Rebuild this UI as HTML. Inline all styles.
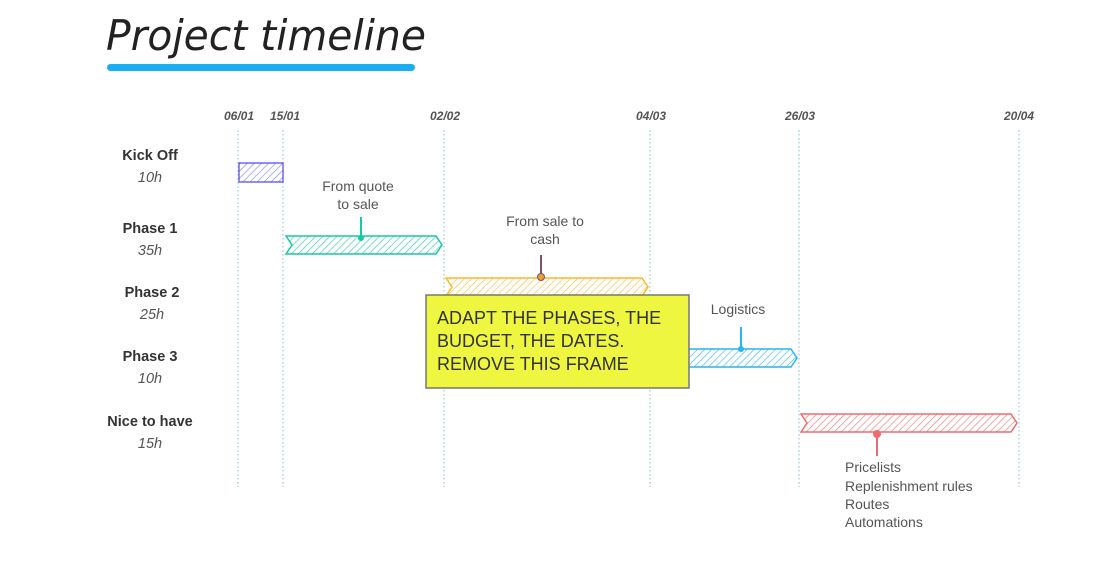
<!DOCTYPE html>
<html><head><meta charset="utf-8"><style>
html,body{margin:0;padding:0;background:#fff;}
svg{display:block;}
text{font-family:"Liberation Sans",sans-serif;}
</style></head><body>
<svg width="1097" height="567" viewBox="0 0 1097 567" xmlns="http://www.w3.org/2000/svg">
<defs>
<pattern id="hp" width="5" height="5" patternUnits="userSpaceOnUse" patternTransform="rotate(45)"><line x1="0" y1="0" x2="0" y2="5" stroke="#5b4ff0" stroke-width="1.3" opacity="0.7"/></pattern>
<pattern id="ht" width="5" height="5" patternUnits="userSpaceOnUse" patternTransform="rotate(45)"><line x1="0" y1="0" x2="0" y2="5" stroke="#19c9a4" stroke-width="1.3" opacity="0.9"/></pattern>
<pattern id="ho" width="5" height="5" patternUnits="userSpaceOnUse" patternTransform="rotate(45)"><line x1="0" y1="0" x2="0" y2="5" stroke="#fbb828" stroke-width="1.3" opacity="0.9"/></pattern>
<pattern id="hb" width="5" height="5" patternUnits="userSpaceOnUse" patternTransform="rotate(45)"><line x1="0" y1="0" x2="0" y2="5" stroke="#27b6ee" stroke-width="1.3" opacity="0.9"/></pattern>
<pattern id="hr" width="5" height="5" patternUnits="userSpaceOnUse" patternTransform="rotate(45)"><line x1="0" y1="0" x2="0" y2="5" stroke="#f26a6f" stroke-width="1.3" opacity="0.9"/></pattern>
</defs>
<text x="106" y="50" font-style="italic" font-size="42" fill="#222" textLength="320" lengthAdjust="spacingAndGlyphs" style="font-family:'DejaVu Sans Condensed','DejaVu Sans',sans-serif">Project timeline</text>
<rect x="107" y="64" width="308" height="7" rx="3.5" fill="#1aaef0"/>
<g font-size="12" font-weight="bold" font-style="italic" fill="#555" text-anchor="middle">
<text x="239" y="120">06/01</text><text x="285" y="120">15/01</text><text x="445" y="120">02/02</text>
<text x="651" y="120">04/03</text><text x="800" y="120">26/03</text><text x="1019" y="120">20/04</text>
</g>
<g stroke="#7cc4c8" stroke-width="1" stroke-dasharray="1.5,2.5">
<line x1="238" y1="130" x2="238" y2="487"/><line x1="283" y1="130" x2="283" y2="487"/>
<line x1="444" y1="130" x2="444" y2="487"/><line x1="650" y1="130" x2="650" y2="487"/>
<line x1="799" y1="130" x2="799" y2="487"/><line x1="1019" y1="130" x2="1019" y2="487"/>
</g>
<g text-anchor="middle" font-size="14.5" fill="#333">
<text x="150" y="160" font-weight="bold">Kick Off</text><text x="150" y="182" font-style="italic" fill="#555">10h</text>
<text x="150" y="233" font-weight="bold">Phase 1</text><text x="150" y="255" font-style="italic" fill="#555">35h</text>
<text x="152" y="297" font-weight="bold">Phase 2</text><text x="152" y="319" font-style="italic" fill="#555">25h</text>
<text x="150" y="361" font-weight="bold">Phase 3</text><text x="150" y="383" font-style="italic" fill="#555">10h</text>
<text x="150" y="426" font-weight="bold">Nice to have</text><text x="150" y="448" font-style="italic" fill="#555">15h</text>
</g>
<rect x="239" y="163" width="44" height="19" fill="url(#hp)" stroke="#5b4ff0" stroke-width="1.3"/>
<polygon points="286,236 436,236 442,245 436,254 286,254 292,245" fill="url(#ht)" stroke="#19c9a4" stroke-width="1.5"/>
<line x1="361" y1="217" x2="361" y2="238" stroke="#19c9a4" stroke-width="2"/><circle cx="361" cy="238" r="3" fill="#19c9a4"/>
<g font-size="14" fill="#555" text-anchor="middle"><text x="358" y="191">From quote</text><text x="358" y="209">to sale</text></g>
<polygon points="446,278 642,278 648,287 642,296 446,296 452,287" fill="url(#ho)" stroke="#fbb828" stroke-width="1.5"/>
<line x1="541" y1="255" x2="541" y2="277" stroke="#7a5560" stroke-width="2"/><circle cx="541" cy="277" r="3.5" fill="#f59a30" stroke="#7a5560" stroke-width="1"/>
<g font-size="14" fill="#555" text-anchor="middle"><text x="545" y="226">From sale to</text><text x="545" y="244">cash</text></g>
<polygon points="650,349 791,349 797,358 791,367 650,367 656,358" fill="url(#hb)" stroke="#27b6ee" stroke-width="1.5"/>
<line x1="741" y1="327" x2="741" y2="349" stroke="#27b6ee" stroke-width="2"/><circle cx="741" cy="349" r="3" fill="#27b6ee"/>
<text x="738" y="314" font-size="14" fill="#555" text-anchor="middle">Logistics</text>
<polygon points="801,414 1011,414 1017,423 1011,432 801,432 807,423" fill="url(#hr)" stroke="#f26a6f" stroke-width="1.5"/>
<line x1="877" y1="434" x2="877" y2="456" stroke="#f26a6f" stroke-width="2"/><circle cx="877" cy="434" r="4" fill="#f26a6f"/>
<g font-size="14" fill="#555"><text x="845" y="472">Pricelists</text><text x="845" y="491">Replenishment rules</text><text x="845" y="509">Routes</text><text x="845" y="527">Automations</text></g>
<rect x="426" y="295" width="263" height="93" fill="#eef63f" stroke="#777" stroke-width="1.5"/>
<g font-size="18" fill="#333"><text x="437" y="324">ADAPT THE PHASES, THE</text><text x="437" y="347">BUDGET, THE DATES.</text><text x="437" y="370">REMOVE THIS FRAME</text></g>
</svg>
</body></html>
